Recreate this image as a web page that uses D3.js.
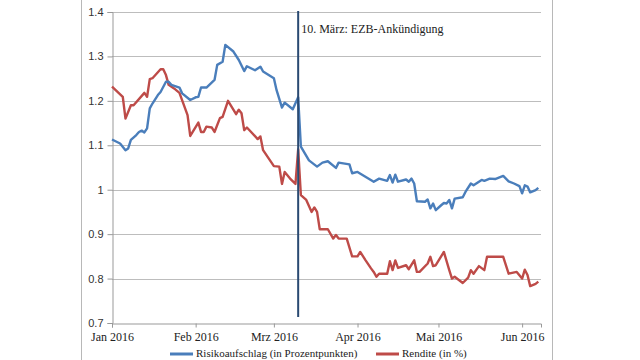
<!DOCTYPE html>
<html><head><meta charset="utf-8">
<script src="https://cdn.jsdelivr.net/npm/d3@7"></script>
<style>
html,body{margin:0;padding:0;background:#fff;}
svg{display:block;}
</style></head>
<body>
<svg id="chart" width="640" height="360"></svg>
<script>
// ---- data ----
const seriesNames = ["Risikoaufschlag (in Prozentpunkten)", "Rendite (in %)"];
const blueDates = ["2016-01-01","2016-01-04","2016-01-06","2016-01-07","2016-01-08","2016-01-10","2016-01-11","2016-01-12","2016-01-13","2016-01-14","2016-01-15","2016-01-16","2016-01-18","2016-01-19","2016-01-21","2016-01-22","2016-01-23","2016-01-26","2016-01-27","2016-01-30","2016-02-01","2016-02-02","2016-02-03","2016-02-05","2016-02-08","2016-02-09","2016-02-11","2016-02-12","2016-02-15","2016-02-17","2016-02-19","2016-02-20","2016-02-23","2016-02-25","2016-02-26","2016-03-01","2016-03-02","2016-03-04","2016-03-05","2016-03-08","2016-03-10","2016-03-11","2016-03-14","2016-03-17","2016-03-19","2016-03-21","2016-03-24","2016-03-25","2016-03-29","2016-03-30","2016-04-01","2016-04-07","2016-04-09","2016-04-12","2016-04-13","2016-04-14","2016-04-15","2016-04-16","2016-04-19","2016-04-20","2016-04-21","2016-04-22","2016-04-23","2016-04-26","2016-04-27","2016-04-28","2016-04-29","2016-04-30","2016-05-02","2016-05-03","2016-05-04","2016-05-05","2016-05-06","2016-05-07","2016-05-10","2016-05-11","2016-05-13","2016-05-14","2016-05-16","2016-05-17","2016-05-18","2016-05-20","2016-05-22","2016-05-25","2016-05-27","2016-05-29","2016-05-31","2016-06-01","2016-06-02","2016-06-03","2016-06-04","2016-06-06","2016-06-07"];
const blueValues = [1.113,1.104,1.089,1.093,1.112,1.123,1.130,1.133,1.129,1.138,1.183,1.194,1.213,1.220,1.243,1.243,1.236,1.230,1.217,1.202,1.208,1.209,1.230,1.230,1.247,1.281,1.288,1.326,1.311,1.292,1.267,1.278,1.269,1.277,1.266,1.251,1.224,1.185,1.196,1.181,1.208,1.097,1.066,1.052,1.061,1.064,1.049,1.061,1.057,1.037,1.040,1.018,1.025,1.020,1.033,1.016,1.034,1.018,1.023,1.018,1.025,1.014,0.974,0.973,0.978,0.958,0.969,0.954,0.965,0.970,0.969,0.977,0.958,0.980,0.983,0.995,1.014,1.010,1.018,1.022,1.020,1.025,1.024,1.031,1.019,1.014,1.008,0.992,1.010,1.007,0.994,0.999,1.004];
const redDates = ["2016-01-01","2016-01-05","2016-01-06","2016-01-08","2016-01-09","2016-01-13","2016-01-14","2016-01-15","2016-01-16","2016-01-19","2016-01-20","2016-01-21","2016-01-22","2016-01-24","2016-01-26","2016-01-29","2016-01-30","2016-02-02","2016-02-03","2016-02-04","2016-02-05","2016-02-07","2016-02-08","2016-02-10","2016-02-11","2016-02-13","2016-02-16","2016-02-17","2016-02-18","2016-02-19","2016-02-20","2016-02-24","2016-02-25","2016-02-26","2016-03-01","2016-03-03","2016-03-04","2016-03-05","2016-03-07","2016-03-09","2016-03-10","2016-03-11","2016-03-13","2016-03-15","2016-03-16","2016-03-17","2016-03-18","2016-03-21","2016-03-23","2016-03-24","2016-03-25","2016-03-28","2016-03-30","2016-04-01","2016-04-02","2016-04-04","2016-04-06","2016-04-07","2016-04-08","2016-04-09","2016-04-12","2016-04-13","2016-04-14","2016-04-15","2016-04-16","2016-04-19","2016-04-20","2016-04-22","2016-04-23","2016-04-24","2016-04-27","2016-04-28","2016-04-29","2016-04-30","2016-05-03","2016-05-05","2016-05-06","2016-05-07","2016-05-10","2016-05-12","2016-05-13","2016-05-14","2016-05-16","2016-05-18","2016-05-19","2016-05-25","2016-05-27","2016-05-30","2016-06-01","2016-06-02","2016-06-03","2016-06-04","2016-06-06","2016-06-07"];
const redValues = [1.232,1.209,1.160,1.190,1.190,1.218,1.209,1.249,1.251,1.271,1.271,1.258,1.236,1.228,1.218,1.168,1.121,1.151,1.130,1.130,1.142,1.140,1.130,1.161,1.164,1.200,1.170,1.180,1.172,1.134,1.140,1.114,1.120,1.089,1.053,1.052,1.013,1.040,1.025,1.013,1.091,0.988,0.977,0.950,0.960,0.950,0.911,0.911,0.890,0.898,0.890,0.890,0.850,0.850,0.860,0.841,0.823,0.815,0.804,0.811,0.811,0.839,0.819,0.841,0.824,0.830,0.821,0.841,0.815,0.815,0.834,0.849,0.828,0.830,0.860,0.819,0.800,0.804,0.790,0.802,0.819,0.811,0.828,0.819,0.849,0.849,0.811,0.815,0.800,0.820,0.808,0.783,0.788,0.793];
const yTicks = [0.7,0.8,0.9,1.0,1.1,1.2,1.3,1.4];
const monthTicks = ["2016-01-01","2016-02-01","2016-03-01","2016-04-01","2016-05-01","2016-06-01"];
const monthLabels = ["Jan 2016","Feb 2016","Mrz 2016","Apr 2016","Mai 2016","Jun 2016"];
const eventDate = "2016-03-10";
const eventLabel = "10. März: EZB-Ankündigung";

// ---- drawing ----
const parse = d3.timeParse("%Y-%m-%d");
const svg = d3.select("#chart");
const L = 112, R = 541, T = 12, B = 323;
const x = d3.scaleTime().domain([parse("2016-01-01"), parse("2016-06-08")]).range([L, R]);
const y = d3.scaleLinear().domain([0.7, 1.4]).range([B, T]);

// frame
svg.append("line").attr("x1",81.5).attr("x2",81.5).attr("y1",0).attr("y2",360).attr("stroke","#b8b8b8");
svg.append("line").attr("x1",552.5).attr("x2",552.5).attr("y1",0).attr("y2",360).attr("stroke","#b8b8b8");

// gridlines
svg.append("g").selectAll("line").data(yTicks.filter(v => v > 0.7)).join("line")
  .attr("x1", L).attr("x2", R).attr("y1", d => Math.round(y(d)) + 0.5).attr("y2", d => Math.round(y(d)) + 0.5)
  .attr("stroke", "#bdbdbd").attr("stroke-width", 1.2);

// y axis
const yAxis = svg.append("g").attr("transform", `translate(${L + 0.5},0)`)
  .call(d3.axisLeft(y).tickValues(yTicks).tickSize(5).tickPadding(4).tickFormat(d => d === 1 ? "1" : d3.format(".1f")(d)));
yAxis.select(".domain").attr("stroke", "#999");
yAxis.selectAll(".tick line").attr("stroke", "#999");
yAxis.selectAll("text").attr("font-family", "'Liberation Sans', Arial, sans-serif").attr("font-size", 11).attr("fill", "#333");

// x axis
const xAxis = svg.append("g").attr("transform", `translate(0,${B + 0.5})`)
  .call(d3.axisBottom(x).tickValues(monthTicks.map(parse)).tickSize(4).tickPadding(5)
    .tickFormat((d, i) => monthLabels[i]));
xAxis.select(".domain").attr("stroke", "#999");
xAxis.selectAll(".tick line").attr("stroke", "#999");
xAxis.selectAll("text").attr("font-family", "'Liberation Serif', 'Times New Roman', serif").attr("font-size", 12).attr("fill", "#222");

// lines
const line = d3.line().x(d => x(d[0])).y(d => y(d[1]));
const blueData = blueDates.map((d, i) => [parse(d), blueValues[i]]);
const redData = redDates.map((d, i) => [parse(d), redValues[i]]);
svg.append("path").datum(redData).attr("d", line).attr("fill", "none")
  .attr("stroke", "#be4b48").attr("stroke-width", 2.4).attr("stroke-linejoin", "round");
svg.append("path").datum(blueData).attr("d", line).attr("fill", "none")
  .attr("stroke", "#4a7ebb").attr("stroke-width", 2.4).attr("stroke-linejoin", "round");

// event line
const ex = x(parse(eventDate));
svg.append("line").attr("x1", ex).attr("x2", ex).attr("y1", 11).attr("y2", 317)
  .attr("stroke", "#2a4a72").attr("stroke-width", 2);
svg.append("text").attr("x", ex + 3).attr("y", 33).text(eventLabel)
  .attr("font-family", "'Liberation Serif', 'Times New Roman', serif").attr("font-size", 12).attr("fill", "#222");

// legend
const legend = [{name: seriesNames[0], color: "#4a7ebb", x: 170}, {name: seriesNames[1], color: "#be4b48", x: 376}];
const lg = svg.append("g").selectAll("g").data(legend).join("g");
lg.append("line").attr("x1", d => d.x).attr("x2", d => d.x + 23).attr("y1", 354).attr("y2", 354)
  .attr("stroke", d => d.color).attr("stroke-width", 3);
lg.append("text").attr("x", d => d.x + 26).attr("y", 357).text(d => d.name)
  .attr("font-family", "'Liberation Serif', 'Times New Roman', serif").attr("font-size", 11).attr("fill", "#222");
</script>
</body></html>
